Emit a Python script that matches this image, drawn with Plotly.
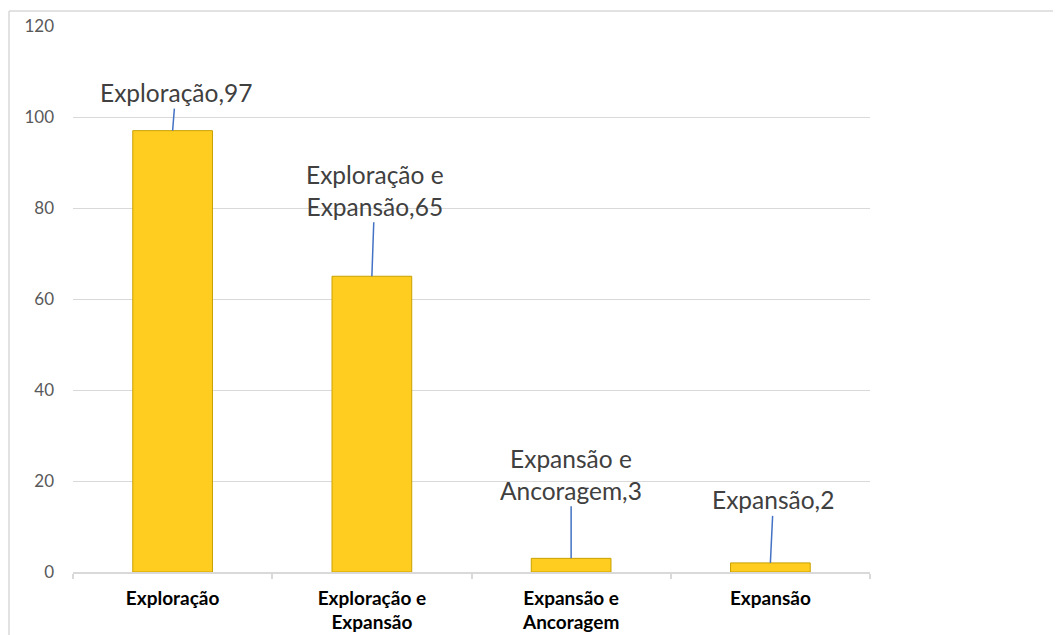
import plotly.graph_objects as go

categories = ["Exploração", "Exploração e<br>Expansão", "Expansão e<br>Ancoragem", "Expansão"]
values = [97, 65, 3, 2]
label_texts = ["Exploração,97", "Exploração e<br>Expansão,65", "Expansão e<br>Ancoragem,3", "Expansão,2"]
label_offsets = [(3, -38), (3, -86), (0, -84), (3, -63)]
y_ticks = [0, 20, 40, 60, 80, 100, 120]

# page has an 8px body margin: figure is drawn at (8, 8) in the window
OFF = 8
W, H = 1061 - OFF, 635 - OFF
px_left, px_right, px_top, px_bottom = 73 - OFF, 870 - OFF, 26 - OFF, 572 - OFF
L, R, T, B = px_left, W - px_right, px_top, H - px_bottom
pw, ph = px_right - px_left, px_bottom - px_top

fig = go.Figure()
fig.add_trace(go.Bar(
    x=categories, y=values, width=0.4,
    marker=dict(color="#FFCD1F", line=dict(color="#C9A000", width=1)),
    showlegend=False, hoverinfo="skip",
))

for cat, val, txt, (ax, ay) in zip(categories, values, label_texts, label_offsets):
    fig.add_annotation(
        x=cat, y=val, text=txt, showarrow=True, arrowhead=0, arrowwidth=1.5,
        arrowcolor="#4472C4", ax=ax, ay=ay, standoff=0,
        font=dict(family="Lato", size=24.5, color="#404040"),
    )

# chart frame (cropped outer border)
fx0 = (9 - OFF - L) / pw
fx1 = (W + 5 - L) / pw
fy_top = (px_bottom - (11 - OFF)) / ph
fy_bot = (px_bottom - (H + 5)) / ph
fig.add_shape(type="line", xref="paper", yref="paper", x0=fx0, x1=fx1, y0=fy_top, y1=fy_top,
              line=dict(color="#D9D9D9", width=1.5))
fig.add_shape(type="line", xref="paper", yref="paper", x0=fx0, x1=fx0, y0=fy_top, y1=fy_bot,
              line=dict(color="#D9D9D9", width=1.5))

fig.update_layout(
    width=W, height=H,
    margin=dict(l=L, r=R, t=T, b=B, autoexpand=False),
    plot_bgcolor="white", paper_bgcolor="white",
    bargap=0.6,
    xaxis=dict(
        tickfont=dict(family="Lato", size=19, color="#000000"),
        tickprefix="<b>", ticksuffix="</b>",
        showline=True, linecolor="#D9D9D9", linewidth=1.5,
        ticks="outside", tickson="boundaries", ticklen=5, tickcolor="#D9D9D9", tickwidth=1.5,
        showgrid=False, ticklabelstandoff=8, automargin=False,
    ),
    yaxis=dict(
        range=[0, 120], tickvals=y_ticks,
        tickfont=dict(family="Lato", size=17, color="#595959"),
        showgrid=True, gridcolor="#D9D9D9", gridwidth=1,
        zeroline=False, showline=False, ticks="", ticklabelstandoff=18, automargin=False,
    ),
)

fig.write_html("out.html")
